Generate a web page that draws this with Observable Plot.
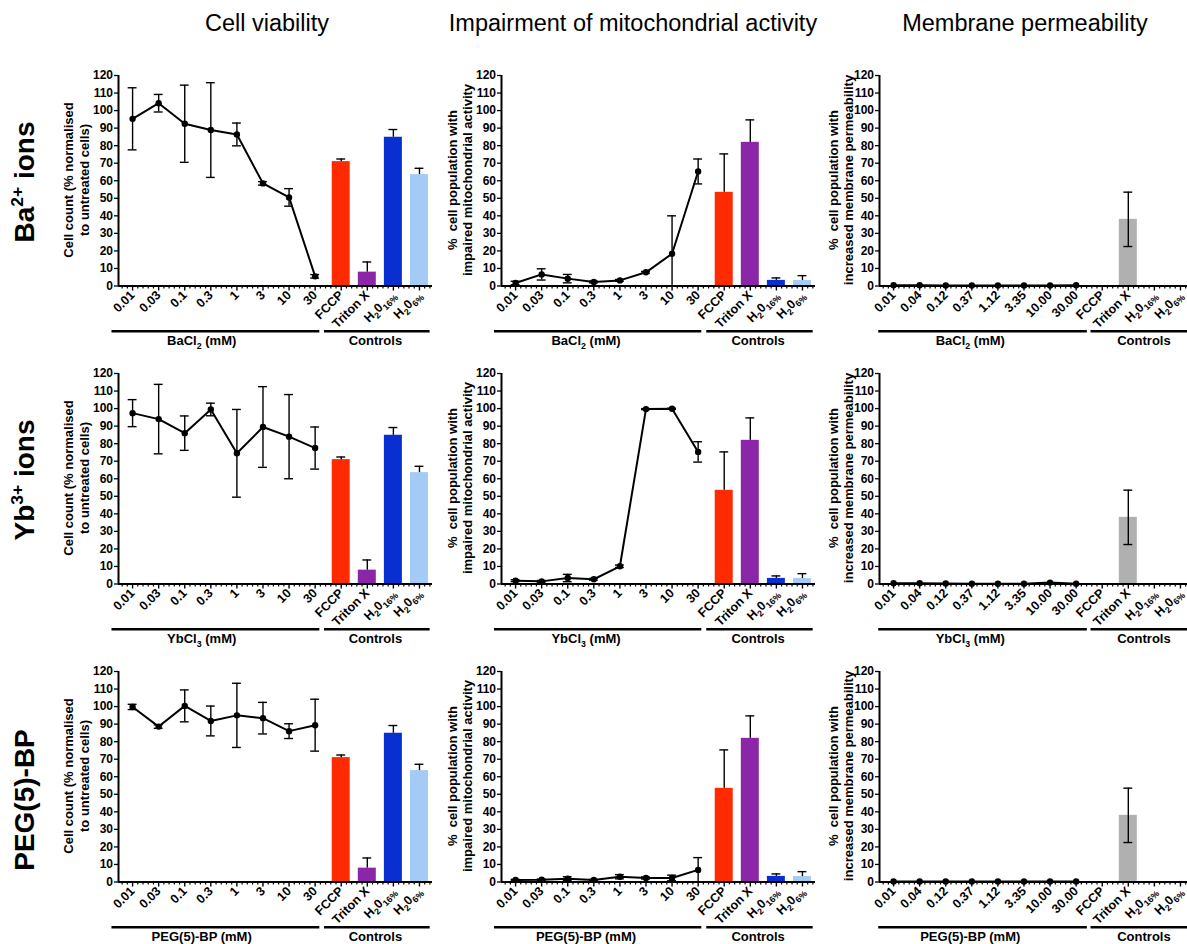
<!DOCTYPE html>
<html><head><meta charset="utf-8">
<script src="https://cdn.jsdelivr.net/npm/d3@7"></script>
<script src="https://cdn.jsdelivr.net/npm/@observablehq/plot@0.6"></script>
<style>
body{margin:0;background:#fff;}
#fig{position:relative;width:1187px;height:944px;overflow:hidden;background:#fff;font-family:"Liberation Sans",Arial,sans-serif;color:#000;}
.abs{position:absolute;white-space:nowrap;line-height:1;}
.coltitle{font-size:23.5px;transform:translateX(-50%);}
.rowtitle{font-size:28px;font-weight:bold;transform:translate(-50%,-50%) rotate(-90deg);}
.ytitle{font-size:13px;font-weight:bold;text-align:center;transform:translate(-50%,-50%) rotate(-90deg);}
.sup{font-size:0.62em;position:relative;top:-0.62em;}
.panel{position:absolute;}
.panel svg{max-width:none !important;}
</style></head><body><div id="fig"></div>
<script>
// ---------- labels ----------
const columnTitles = ["Cell viability", "Impairment of mitochondrial activity", "Membrane permeability"];
const rowTitles = ["Ba<span class='sup'>2+</span> ions", "Yb<span class='sup'>3+</span> ions", "PEG(5)-BP"];
const yTitles = [
  ["Cell count (% normalised", "to untreated cells)"],
  ["%  cell population with", "impaired mitochondrial activity"],
  ["%  cell population with", "increased membrane permeability"]
];
const groupLabels = ["BaCl₂ (mM)", "YbCl₃ (mM)", "PEG(5)-BP (mM)"];
const controlsLabel = "Controls";
const concLabels = ["0.01", "0.03", "0.1", "0.3", "1", "3", "10", "30"];
const memConcLabels = ["0.01", "0.04", "0.12", "0.37", "1.12", "3.35", "10.00", "30.00"];
const controlLabels = ["FCCP", "Triton X", "H₂0₁₆%", "H₂0₆%"];
const controlColors = ["#ff2a00", "#8b26a8", "#0a2fd1", "#a3cbf6"];
const memControlColors = ["#b0b0b0", "#b0b0b0", "#b0b0b0", "#b0b0b0"];
const yTicks = [0, 10, 20, 30, 40, 50, 60, 70, 80, 90, 100, 110, 120];

// ---------- cell viability ----------
const viabBa = [95.3, 104.2, 92.5, 88.9, 86.4, 58.5, 50.5, 5.5];
const viabBaErr = [17.7, 5, 22, 27, 6.5, 1, 5, 1];
const viabYb = [97.4, 94, 86, 99.5, 74.5, 89.5, 84, 77.5];
const viabYbErr = [7.7, 19.8, 9.8, 3.6, 25, 23, 24, 12];
const viabPeg = [99.8, 88.6, 100.4, 91.8, 95, 93.4, 86, 89.4];
const viabPegErr = [1.5, 1, 9.1, 8.5, 18.3, 9, 4.2, 14.8];
const viabCtrl = [70.9, 7.9, 84.8, 63.5];
const viabCtrlErr = [1.5, 5.8, 4.4, 3.6];

// ---------- mitochondrial activity ----------
const mitoBa = [1.7, 6.6, 4.2, 2.3, 3.2, 7.8, 18.4, 65.3];
const mitoBaErr = [1, 3.2, 2.4, 0.5, 0.5, 0.5, 21.6, 7.1];
const mitoYb = [1.9, 1.5, 3.4, 2.7, 10.1, 99.7, 99.9, 75.3];
const mitoYbErr = [0.5, 0.5, 2.1, 0.5, 0.7, 0.3, 0.3, 5.8];
const mitoPeg = [1.1, 1.3, 1.9, 1.1, 3, 2.3, 2.3, 6.9];
const mitoPegErr = [0.4, 0.4, 1.1, 0.4, 1.2, 0.6, 1.6, 7];
const mitoCtrl = [53.4, 81.9, 3.2, 3.1];
const mitoCtrlErr = [21.9, 12.8, 1.4, 2.8];

// ---------- membrane permeability ----------
const memBa = [0.4, 0.4, 0.3, 0.3, 0.3, 0.3, 0.3, 0.4];
const memYb = [0.4, 0.4, 0.3, 0.1, 0.1, 0.2, 0.8, 0.2];
const memPeg = [0.3, 0.3, 0.3, 0.3, 0.3, 0.3, 0.3, 0.3];
const memErr = [0, 0, 0, 0, 0, 0, 0, 0];
const memCtrl = [0, 38, 0, 0];
const memCtrlErr = [0, 15.5, 0, 0];

// ---------- layout ----------
const colAxisX = [118.3, 501, 879];
const rowTopY = [75, 373.2, 670.7];
const plotW = 314, plotH = 210.5;
const mL = 40, mR = 10, mT = 10, mB = 70;
const xDomain = [-0.54, 11.5];
const bracketY = -25.8;
const bracketSpans = [
  [[-0.79, 7.18], [7.36, 11.41]],
  [[-0.81, 7.14], [7.33, 11.41]],
  [[-0.57, 7.43], [7.57, 11.8]]
];
const groupLabelX = [[2.65, 9.31], [2.7, 9.3], [2.94, 9.6]];

const series = [
  [[viabBa, viabBaErr], [mitoBa, mitoBaErr], [memBa, memErr]],
  [[viabYb, viabYbErr], [mitoYb, mitoYbErr], [memYb, memErr]],
  [[viabPeg, viabPegErr], [mitoPeg, mitoPegErr], [memPeg, memErr]]
];
const controlSeries = [[viabCtrl, viabCtrlErr], [mitoCtrl, mitoCtrlErr], [memCtrl, memCtrlErr]];

const fig = document.getElementById("fig");

function subify(svg) {
  const subs = "₀₁₂₃₄₅₆₇₈₉";
  svg.querySelectorAll("text").forEach(t => {
    const targets = t.querySelector("tspan") ? Array.from(t.querySelectorAll("tspan")) : [t];
    targets.forEach(el => {
      const s = el.textContent;
      if (!/[₀-₉]/.test(s)) return;
      el.textContent = "";
      const runs = [];
      for (const ch of s) {
        let isSub = subs.includes(ch);
        const c = isSub ? String(subs.indexOf(ch)) : ch;
        if (ch === "%" && runs.length && runs[runs.length - 1].sub) isSub = true;
        const last = runs[runs.length - 1];
        if (last && last.sub === isSub) last.text += c; else runs.push({text: c, sub: isSub});
      }
      let shifted = false;
      for (const r of runs) {
        const ts = document.createElementNS("http://www.w3.org/2000/svg", "tspan");
        ts.textContent = r.text;
        if (r.sub) { ts.setAttribute("font-size", "8.8px"); if (!shifted) { ts.setAttribute("dy", "3.5"); shifted = true; } }
        else if (shifted) { ts.setAttribute("dy", "-3.5"); shifted = false; }
        el.appendChild(ts);
      }
    });
  });
}

function makePanel(row, col) {
  const [vals, errs] = series[row][col];
  const [cv, ce] = controlSeries[col];
  const xLabels = (col === 2 ? memConcLabels : concLabels).concat(controlLabels);
  const colors = col === 2 ? memControlColors : controlColors;
  const both = col === 2;
  const pts = vals.map((v, i) => ({i, v, lo: Math.max(0, v - errs[i]), hi: v + errs[i], e: errs[i]}));
  const bars = cv.map((v, k) => ({i: 8 + k, v, color: colors[k], lo: both ? Math.max(0, v - ce[k]) : v, hi: v + ce[k], e: ce[k]})).filter(d => d.v > 0);
  const errPts = pts.filter(d => d.e > 0);
  const errBars = bars.filter(d => d.e > 0);
  const capsPts = errPts.flatMap(d => [{i: d.i, y: d.hi}, {i: d.i, y: d.lo}]);
  const capsBars = errBars.flatMap(d => both ? [{i: d.i, y: d.hi}, {i: d.i, y: d.lo}] : [{i: d.i, y: d.hi}]);
  const minor = [];
  for (let i = -1; i < 12; i++) for (let k = 1; k <= 4; k++) { const t = i + k / 5; if (t > xDomain[0] + 0.01 && t < xDomain[1]) minor.push(t); }
  const brackets = bracketSpans[col].map(([a, b]) => ({a, b}));
  const glabels = [{x: groupLabelX[col][0], t: groupLabels[row]}, {x: groupLabelX[col][1], t: controlsLabel}];

  const W = mL + plotW + mR, H = mT + plotH + mB;
  const svg = Plot.plot({
    width: W,
    height: H,
    marginLeft: mL, marginRight: mR, marginTop: mT, marginBottom: mB,
    x: {type: "linear", domain: xDomain, label: null},
    y: {domain: [0, 120], label: null},
    color: {type: "identity"},
    style: {fontFamily: "Liberation Sans, Arial, sans-serif", fontSize: "12px", fontWeight: "bold", overflow: "visible", background: "transparent", color: "#000", maxWidth: "none"},
    marks: [
      Plot.rectY(bars, {x1: d => d.i - 0.345, x2: d => d.i + 0.345, y1: 0, y2: "v", fill: "color"}),
      Plot.ruleX(errBars, {x: "i", y1: "lo", y2: "hi", stroke: "#000", strokeWidth: 1.4}),
      Plot.ruleY(capsBars, {y: "y", x1: d => d.i - 0.17, x2: d => d.i + 0.17, stroke: "#000", strokeWidth: 1.4}),
      Plot.ruleX(errPts, {x: "i", y1: "lo", y2: "hi", stroke: "#000", strokeWidth: 1.4}),
      Plot.ruleY(capsPts, {y: "y", x1: d => d.i - 0.17, x2: d => d.i + 0.17, stroke: "#000", strokeWidth: 1.4}),
      Plot.line(pts, {x: "i", y: "v", stroke: "#000", strokeWidth: 2}),
      Plot.dot(pts, {x: "i", y: "v", r: 3.2, fill: "#000", stroke: "none"}),
      Plot.axisY({ticks: yTicks, tickSize: 4, tickPadding: 1.5, tickFormat: d => String(d), strokeWidth: 1.3}),
      Plot.axisX({ticks: minor, tickSize: 3, tickFormat: () => "", strokeWidth: 1.2}),
      Plot.axisX({ticks: d3.range(12), tickSize: 5, tickPadding: 2, tickRotate: -45, tickFormat: i => xLabels[i], fontSize: 12.5, strokeWidth: 1.4}),
      Plot.ruleY([0], {x1: xDomain[0], x2: xDomain[1], stroke: "#000", strokeWidth: 2}),
      Plot.ruleX([xDomain[0]], {y1: 0, y2: 120, stroke: "#000", strokeWidth: 2}),
      Plot.ruleY(brackets, {y: bracketY, x1: "a", x2: "b", stroke: "#000", strokeWidth: 2.5}),
      Plot.text(glabels, {x: "x", y: bracketY, text: "t", dy: 10, fontSize: 13, fontWeight: "bold", fill: "#000"})
    ]
  });
  svg.style.maxWidth = "none";
  svg.style.width = W + "px";
  svg.style.height = H + "px";
  subify(svg);
  const wrap = document.createElement("div");
  wrap.className = "panel";
  wrap.style.left = (colAxisX[col] - mL) + "px";
  wrap.style.top = (rowTopY[row] - mT) + "px";
  wrap.style.width = W + "px";
  wrap.style.height = H + "px";
  wrap.appendChild(svg);
  fig.appendChild(wrap);
}

for (let r = 0; r < 3; r++) for (let c = 0; c < 3; c++) makePanel(r, c);

// column titles
const colTitleX = [267, 633, 1025];
columnTitles.forEach((t, i) => {
  const d = document.createElement("div");
  d.className = "abs coltitle";
  d.style.left = colTitleX[i] + "px";
  d.style.top = "12px";
  d.textContent = t;
  fig.appendChild(d);
});

// row titles
const rowTitleY = [182, 480, 800];
rowTitles.forEach((t, i) => {
  const d = document.createElement("div");
  d.className = "abs rowtitle";
  d.style.left = "25px";
  d.style.top = rowTitleY[i] + "px";
  d.innerHTML = t;
  fig.appendChild(d);
});

// y-axis titles
const yTitleX = [77, 460, 841.2];
const yTitleLH = [16, 15, 15];
for (let r = 0; r < 3; r++) {
  for (let c = 0; c < 3; c++) {
    const d = document.createElement("div");
    d.className = "abs ytitle";
    d.style.left = yTitleX[c] + "px";
    d.style.top = (rowTopY[r] + plotH / 2) + "px";
    d.style.lineHeight = yTitleLH[c] + "px";
    d.innerHTML = yTitles[c].map(s => s.replace(/ {2}/g, "&nbsp; ")).join("<br>");
    fig.appendChild(d);
  }
}
</script></body></html>
